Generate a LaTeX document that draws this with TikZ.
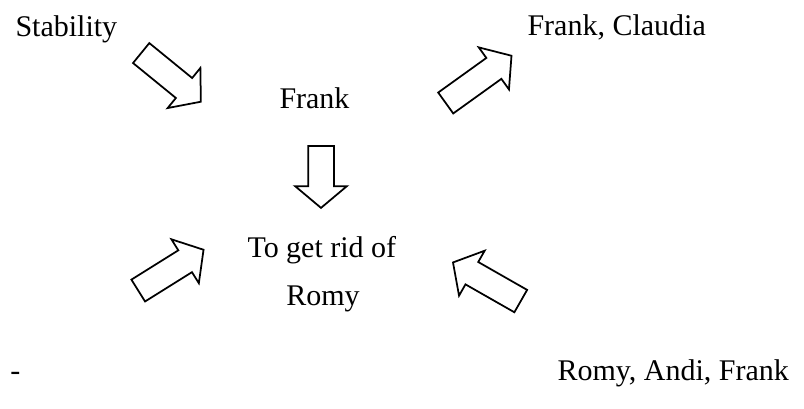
\documentclass[tikz,border=0pt]{standalone}
\usepackage{fontspec}
\setmainfont{Liberation Serif}
\usetikzlibrary{shapes.arrows}

\begin{document}
\begin{tikzpicture}[x=0.4pt,y=-0.4pt,font=\fontsize{12}{14}\selectfont,
  lbl/.style={inner sep=0pt,anchor=base west},
  blk/.style={single arrow,draw,line width=0.7pt,inner xsep=0pt,
              inner ysep=4.8pt,single arrow head extend=5.2pt,
              single arrow tip angle=100,single arrow head indent=0pt,
              anchor=tail}]
\useasboundingbox (0,0) rectangle (804,408);
% labels
\node[lbl] (stab) at (15,36) {Stability};
\node[lbl] (fc) at (527,35) {Frank, Claudia};
\node[lbl] (frank) at (279,108) {Frank};
\node[lbl] (goal) at (247,257) {To get rid of};
\node[lbl,anchor=base] (romy) at (323,305) {Romy};
\node[lbl] (dash) at (10,380) {-};
\node[lbl] (raf) at (557,380) {Romy, Andi, Frank};
% block arrows
\node[blk,minimum height=30.8pt,rotate=-39.2] (arA) at (140.5,52.5) {};
\node[blk,minimum height=32.4pt,rotate=35.7] (arB) at (445,103.5) {};
\node[blk,minimum height=24.8pt,rotate=-90] (arC) at (321,145) {};
\node[blk,minimum height=30.8pt,rotate=32] (arD) at (137.5,291) {};
\node[blk,minimum height=31.2pt,rotate=150.3] (arE) at (521.5,301.5) {};
\end{tikzpicture}
\end{document}
